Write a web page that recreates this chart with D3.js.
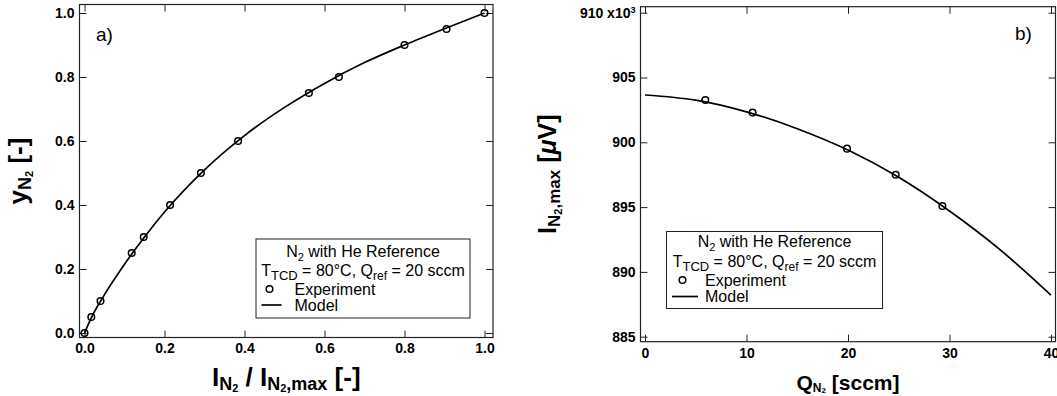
<!DOCTYPE html>
<html>
<head>
<meta charset="utf-8">
<script src="https://cdn.jsdelivr.net/npm/d3@7"></script>
<style>
  html, body { margin: 0; padding: 0; background: #fff; }
  svg { display: block; font-family: "Liberation Sans", Arial, Helvetica, sans-serif; }
  .tick text { font-weight: bold; font-size: 14px; fill: #000; }
  .tick line { stroke: #222; stroke-width: 1; }
</style>
</head>
<body>
<svg id="fig" width="1057" height="396"></svg>
<script>
// Panel a) : mole fraction vs. normalised signal
const fracExpX   = [0, 0.017, 0.04, 0.118, 0.148, 0.214, 0.291, 0.384, 0.561, 0.636, 0.80, 0.905, 1.0];
const fracExpY   = [0, 0.05, 0.10, 0.25, 0.30, 0.40, 0.50, 0.60, 0.75, 0.80, 0.90, 0.95, 1.0];
const fracModelX = [0, 0.02, 0.05, 0.1, 0.15, 0.2, 0.3, 0.4, 0.5, 0.6, 0.7, 0.8, 0.9, 1.0];
const fracModelY = [0, 0.055, 0.12, 0.215, 0.30, 0.378, 0.51, 0.617, 0.705, 0.78, 0.845, 0.90, 0.951, 1.0];
const fracTicks  = [0, 0.2, 0.4, 0.6, 0.8, 1.0];

// Panel b) : peak signal vs. N2 flow
const flowExp     = [5.94, 10.6, 19.9, 24.7, 29.3];
const signalExp   = [903.26, 902.29, 899.51, 897.5, 895.08];
const flowModel   = [0, 5, 10, 15, 20, 25, 30, 35, 40];
const signalModel = [903.65, 903.25, 902.35, 901.05, 899.4, 897.3, 894.7, 891.7, 888.2];
const flowTicks   = [0, 10, 20, 30, 40];
const signalTicks = [885, 890, 895, 900, 905, 910];

const svg = d3.select("#fig");
const TICK = 7;

function frameAxes(g, fr, xs, ys, xTicks, yTicks, xFmt, yFmt) {
  // labelled axes on left/bottom, bare mirrored ticks on top/right, all pointing inward
  g.append("g").attr("transform", `translate(0,${fr.bottom})`)
    .call(d3.axisBottom(xs).tickValues(xTicks).tickSize(-TICK).tickPadding(6).tickFormat(xFmt))
    .call(a => a.select(".domain").remove());
  g.append("g").attr("transform", `translate(0,${fr.top})`)
    .call(d3.axisTop(xs).tickValues(xTicks).tickSize(-TICK))
    .call(a => { a.select(".domain").remove(); a.selectAll("text").remove(); });
  g.append("g").attr("transform", `translate(${fr.left},0)`)
    .call(d3.axisLeft(ys).tickValues(yTicks).tickSize(-TICK).tickPadding(5).tickFormat(yFmt))
    .call(a => a.select(".domain").remove());
  g.append("g").attr("transform", `translate(${fr.right},0)`)
    .call(d3.axisRight(ys).tickValues(yTicks).tickSize(-TICK))
    .call(a => { a.select(".domain").remove(); a.selectAll("text").remove(); });
  g.append("rect")
    .attr("x", fr.left).attr("y", fr.top)
    .attr("width", fr.right - fr.left).attr("height", fr.bottom - fr.top)
    .attr("fill", "none").attr("stroke", "#222").attr("stroke-width", 1.2);
}

function drawSeries(g, xs, ys, mx, my, ex, ey) {
  const model = mx.map((d, i) => [d, my[i]]);
  g.append("path")
    .datum(model)
    .attr("fill", "none").attr("stroke", "#000").attr("stroke-width", 1.7)
    .attr("d", d3.line().x(d => xs(d[0])).y(d => ys(d[1])).curve(d3.curveMonotoneX));
  g.selectAll("circle.exp")
    .data(ex.map((d, i) => [d, ey[i]]))
    .join("circle")
    .attr("class", "exp")
    .attr("cx", d => xs(d[0])).attr("cy", d => ys(d[1]))
    .attr("r", 3.3)
    .attr("fill", "none").attr("stroke", "#000").attr("stroke-width", 1.5);
}

function legend(g, box, lines) {
  const FS = 16;
  g.append("rect")
    .attr("x", box.x).attr("y", box.y).attr("width", box.w).attr("height", box.h)
    .attr("fill", "#fff").attr("stroke", "#222").attr("stroke-width", 1);
  const cx = box.x + box.w / 2;
  const t1 = g.append("text").attr("x", cx).attr("y", box.y + lines[0])
    .attr("text-anchor", "middle").attr("font-size", FS);
  t1.append("tspan").text("N");
  t1.append("tspan").attr("font-size", 11).attr("dy", 4).text("2");
  t1.append("tspan").attr("dy", -4).text(" with He Reference");

  const t2 = g.append("text").attr("x", cx).attr("y", box.y + lines[1])
    .attr("text-anchor", "middle").attr("font-size", FS);
  t2.append("tspan").text("T");
  t2.append("tspan").attr("font-size", 13).attr("dy", 4).text("TCD");
  t2.append("tspan").attr("dy", -4).text(" = 80°C, Q");
  t2.append("tspan").attr("font-size", 12).attr("dy", 4).text("ref");
  t2.append("tspan").attr("dy", -4).text(" = 20 sccm");

  g.append("circle")
    .attr("cx", box.x + box.mk).attr("cy", box.y + lines[2] - 5.5)
    .attr("r", 3.3).attr("fill", "none").attr("stroke", "#000").attr("stroke-width", 1.5);
  g.append("text").attr("x", box.x + box.tx).attr("y", box.y + lines[2])
    .attr("font-size", FS).text("Experiment");
  g.append("line")
    .attr("x1", box.x + box.l1).attr("x2", box.x + box.l2)
    .attr("y1", box.y + lines[3] - 5.5).attr("y2", box.y + lines[3] - 5.5)
    .attr("stroke", "#000").attr("stroke-width", 1.7);
  g.append("text").attr("x", box.x + box.tx).attr("y", box.y + lines[3])
    .attr("font-size", FS).text("Model");
}

// ---------- panel a ----------
{
  const fr = { left: 79.5, right: 493, top: 4.5, bottom: 337.5 };
  const xs = d3.scaleLinear().domain([0, 1]).range([84.5, 484.5]);
  const ys = d3.scaleLinear().domain([0, 1]).range([333, 13]);
  const g = svg.append("g");
  frameAxes(g, fr, xs, ys, fracTicks, fracTicks, d3.format(".1f"), d3.format(".1f"));
  drawSeries(g, xs, ys, fracModelX, fracModelY, fracExpX, fracExpY);
  legend(g, { x: 256, y: 239, w: 214, h: 79, mk: 13.5, tx: 38.5, l1: 5.5, l2: 25.5 }, [17.5, 37, 55.5, 71.5]);

  g.append("text").attr("x", 96).attr("y", 41).attr("font-size", 19).text("a)");

  const xl = g.append("text").attr("x", (fr.left + fr.right) / 2).attr("y", 386)
    .attr("text-anchor", "middle").attr("font-weight", "bold").attr("font-size", 26);
  xl.append("tspan").text("I");
  xl.append("tspan").attr("font-size", 18).attr("dy", 4).text("N");
  xl.append("tspan").attr("font-size", 11).attr("dy", 2).text("2");
  xl.append("tspan").attr("dy", -6).text(" / I");
  xl.append("tspan").attr("font-size", 18).attr("dy", 4).text("N");
  xl.append("tspan").attr("font-size", 11).attr("dy", 2).text("2");
  xl.append("tspan").attr("font-size", 18).attr("dy", -2).text(",max");
  xl.append("tspan").attr("dy", -4).text(" [-]");

  const yl = g.append("text").attr("transform", "rotate(-90)")
    .attr("x", -(fr.top + fr.bottom) / 2).attr("y", 27)
    .attr("text-anchor", "middle").attr("font-weight", "bold").attr("font-size", 26);
  yl.append("tspan").text("y");
  yl.append("tspan").attr("font-size", 18).attr("dy", 4).text("N");
  yl.append("tspan").attr("font-size", 11).attr("dy", 2).text("2");
  yl.append("tspan").attr("dy", -6).text(" [-]");
}

// ---------- panel b ----------
{
  const fr = { left: 640.5, right: 1055.5, top: 6.7, bottom: 341.7 };
  const xs = d3.scaleLinear().domain([0, 40]).range([645, 1051]);
  const ys = d3.scaleLinear().domain([885, 910]).range([336.7, 12.7]);
  const g = svg.append("g");
  frameAxes(g, fr, xs, ys, flowTicks, signalTicks, d3.format("d"), d3.format("d"));

  // top tick label carries the x10^3 multiplier
  g.selectAll(".tick text").filter(d => d === 910).each(function () {
    const t = d3.select(this);
    t.text("910 x10");
    t.append("tspan").attr("font-size", 9).attr("dy", "-0.55em").text("3");
  });

  drawSeries(g, xs, ys, flowModel, signalModel, flowExp, signalExp);
  legend(g, { x: 666.5, y: 231.5, w: 216, h: 77, mk: 16, tx: 38.5, l1: 5.5, l2: 31.5 }, [15.5, 35, 54, 70.5]);

  g.append("text").attr("x", 1015).attr("y", 40).attr("font-size", 19).text("b)");

  const xl = g.append("text").attr("x", (fr.left + fr.right) / 2).attr("y", 390)
    .attr("text-anchor", "middle").attr("font-weight", "bold").attr("font-size", 21);
  xl.append("tspan").text("Q");
  xl.append("tspan").attr("font-size", 12).attr("dy", 2).text("N");
  xl.append("tspan").attr("font-size", 8).attr("dy", 1).text("2");
  xl.append("tspan").attr("dy", -3).text(" [sccm]");

  const yl = g.append("text").attr("transform", "rotate(-90)")
    .attr("x", -(fr.top + fr.bottom) / 2).attr("y", 556)
    .attr("text-anchor", "middle").attr("font-weight", "bold").attr("font-size", 25);
  yl.append("tspan").text("I");
  yl.append("tspan").attr("font-size", 17).attr("dy", 4).text("N");
  yl.append("tspan").attr("font-size", 11).attr("dy", 2).text("2");
  yl.append("tspan").attr("font-size", 17).attr("dy", -2).text(",max");
  yl.append("tspan").attr("dy", -4).text(" [");
  yl.append("tspan").attr("font-style", "italic").text("μ");
  yl.append("tspan").text("V]");
}
</script>
</body>
</html>
